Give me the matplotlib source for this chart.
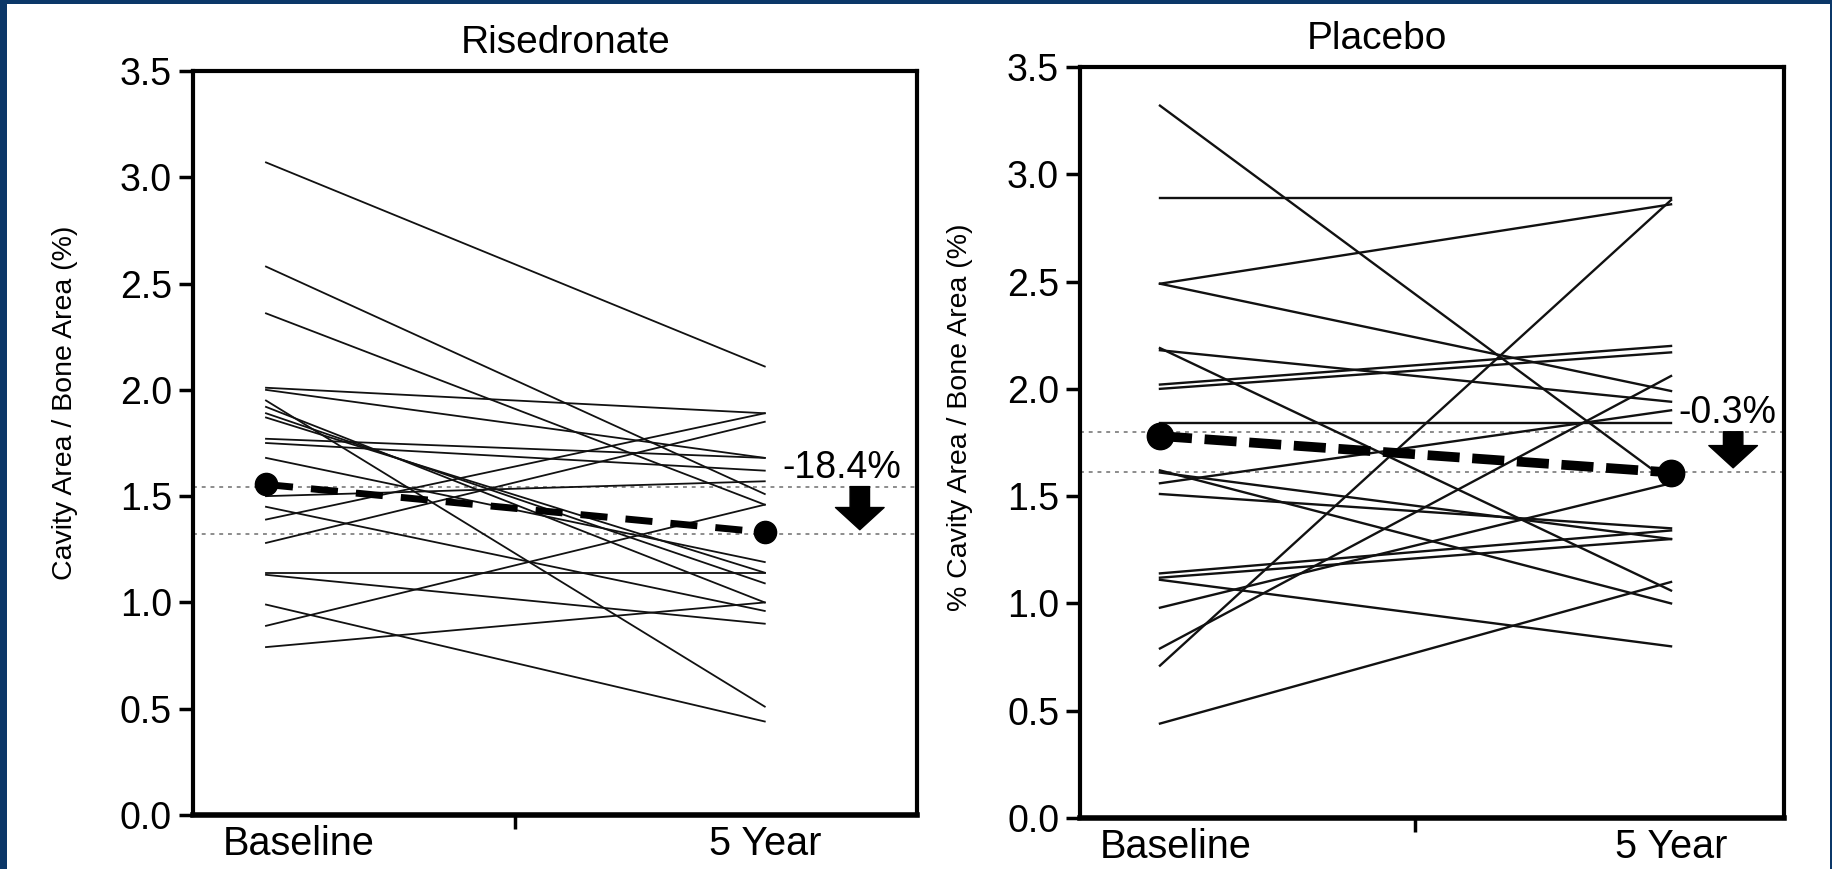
import matplotlib.pyplot as plt
from matplotlib.patches import Rectangle

plt.rcParams['font.family'] = ['Liberation Sans', 'DejaVu Sans']

# Risedronate: each subject baseline -> 5 year
ris_base = [3.07, 2.58, 2.36, 2.01, 2.00, 1.95, 1.92, 1.89, 1.87, 1.77, 1.75,
            1.68, 1.50, 1.45, 1.39, 1.28, 1.14, 1.13, 0.99, 0.89, 0.79]
ris_5yr = [2.11, 1.51, 1.46, 1.89, 1.68, 0.51, 1.00, 1.09, 1.14, 1.68, 1.62,
           1.19, 1.57, 0.96, 1.89, 1.85, 1.14, 0.90, 0.44, 1.46, 1.00]
ris_mean = [1.555, 1.33]
ris_ref = [1.545, 1.322]
ris_change = '-18.4%'

# Placebo
pla_base = [3.32, 2.89, 2.49, 2.49, 2.19, 2.18, 2.02, 2.00, 1.84, 1.62,
            1.61, 1.56, 1.51, 1.14, 1.12, 1.11, 0.98, 0.79, 0.71, 0.44]
pla_5yr = [1.56, 2.89, 2.86, 1.99, 1.06, 1.94, 2.20, 2.17, 1.84, 1.00,
           1.30, 1.90, 1.35, 1.34, 1.30, 0.80, 1.56, 2.06, 2.88, 1.10]
pla_mean = [1.78, 1.61]
pla_ref = [1.80, 1.612]
pla_change = '-0.3%'

xpos = [1, 3]
yticks = [0.0, 0.5, 1.0, 1.5, 2.0, 2.5, 3.0, 3.5]

navy = '#0b3768'
fig = plt.figure(figsize=(18.32, 8.69), dpi=100, facecolor=navy)
fig.patches.append(Rectangle((7 / 1832, 0), 1823 / 1832, 1 - 4 / 869,
                             transform=fig.transFigure, facecolor='white',
                             edgecolor='none', zorder=-10))

ax1 = fig.add_axes([0.1053, 0.0621, 0.3952, 0.8562])
ax2 = fig.add_axes([0.5895, 0.0587, 0.3843, 0.8642])
for a in (ax1, ax2):
    a.set_zorder(2)


def draw(ax, base, yr5, mean, ref, change, xlim, blabel_x, ylabel, ylab_pos,
         title, title_x, txt_pos, arrow_x, ms, dash_lw, dashes, lw):
    for b, e in zip(base, yr5):
        ax.plot(xpos, [b, e], color='#111111', lw=lw, zorder=2)
    for r in ref:
        ax.axhline(r, color='#8c8c8c', lw=1.4, ls=(0, (2, 2.5)), zorder=1)
    ax.plot(xpos, mean, color='black', lw=dash_lw, ls=(0, dashes), zorder=3)
    ax.plot(xpos, mean, 'o', color='black', ms=ms, zorder=4)
    ax.set_xlim(*xlim)
    ax.set_ylim(0, 3.5)
    ax.set_yticks(yticks)
    ax.set_yticklabels(['%.1f' % v for v in yticks])
    ax.set_xticks([2])
    ax.set_xticklabels([''])
    ax.set_xticks([blabel_x, 3], ['Baseline', '5 Year'], minor=True)
    ax.tick_params(axis='x', which='minor', length=0, pad=7, labelsize=28.5)
    ax.tick_params(axis='x', which='major', length=10, width=2.5)
    ax.tick_params(axis='y', length=10, width=2.5, pad=5, labelsize=27)
    for s in ax.spines.values():
        s.set_linewidth(3)
    ax.spines['bottom'].set_linewidth(4)
    ax.set_ylabel(ylabel, fontsize=20.5)
    ax.yaxis.set_label_coords(*ylab_pos)
    ax.text(title_x, 1.024, title, transform=ax.transAxes, ha='center',
            va='baseline', fontsize=28)
    ax.text(txt_pos[0], txt_pos[1], change, fontsize=27, va='baseline',
            ha='left')
    ax.annotate('', xy=(arrow_x, ref[1] + 0.02), xytext=(arrow_x, ref[0]),
                arrowprops=dict(arrowstyle='simple,head_length=1.6,head_width=3.5,tail_width=1.4',
                                color='black', mutation_scale=10,
                                shrinkA=0, shrinkB=0))


draw(ax1, ris_base, ris_5yr, ris_mean, ris_ref, ris_change,
     (0.707, 3.61), 1.13, 'Cavity Area / Bone Area (%)', (-0.159, 0.554),
     'Risedronate', 0.515, (3.072, 1.585), 3.381, 16, 5, (3.9, 2.6), 1.3)
draw(ax2, pla_base, pla_5yr, pla_mean, pla_ref, pla_change,
     (0.687, 3.442), 1.06, '% Cavity Area / Bone Area (%)', (-0.152, 0.534),
     'Placebo', 0.422, (3.027, 1.842), 3.243, 19, 7, (3.3, 1.3), 1.7)

fig.savefig('out.png', dpi=100, facecolor=navy)
